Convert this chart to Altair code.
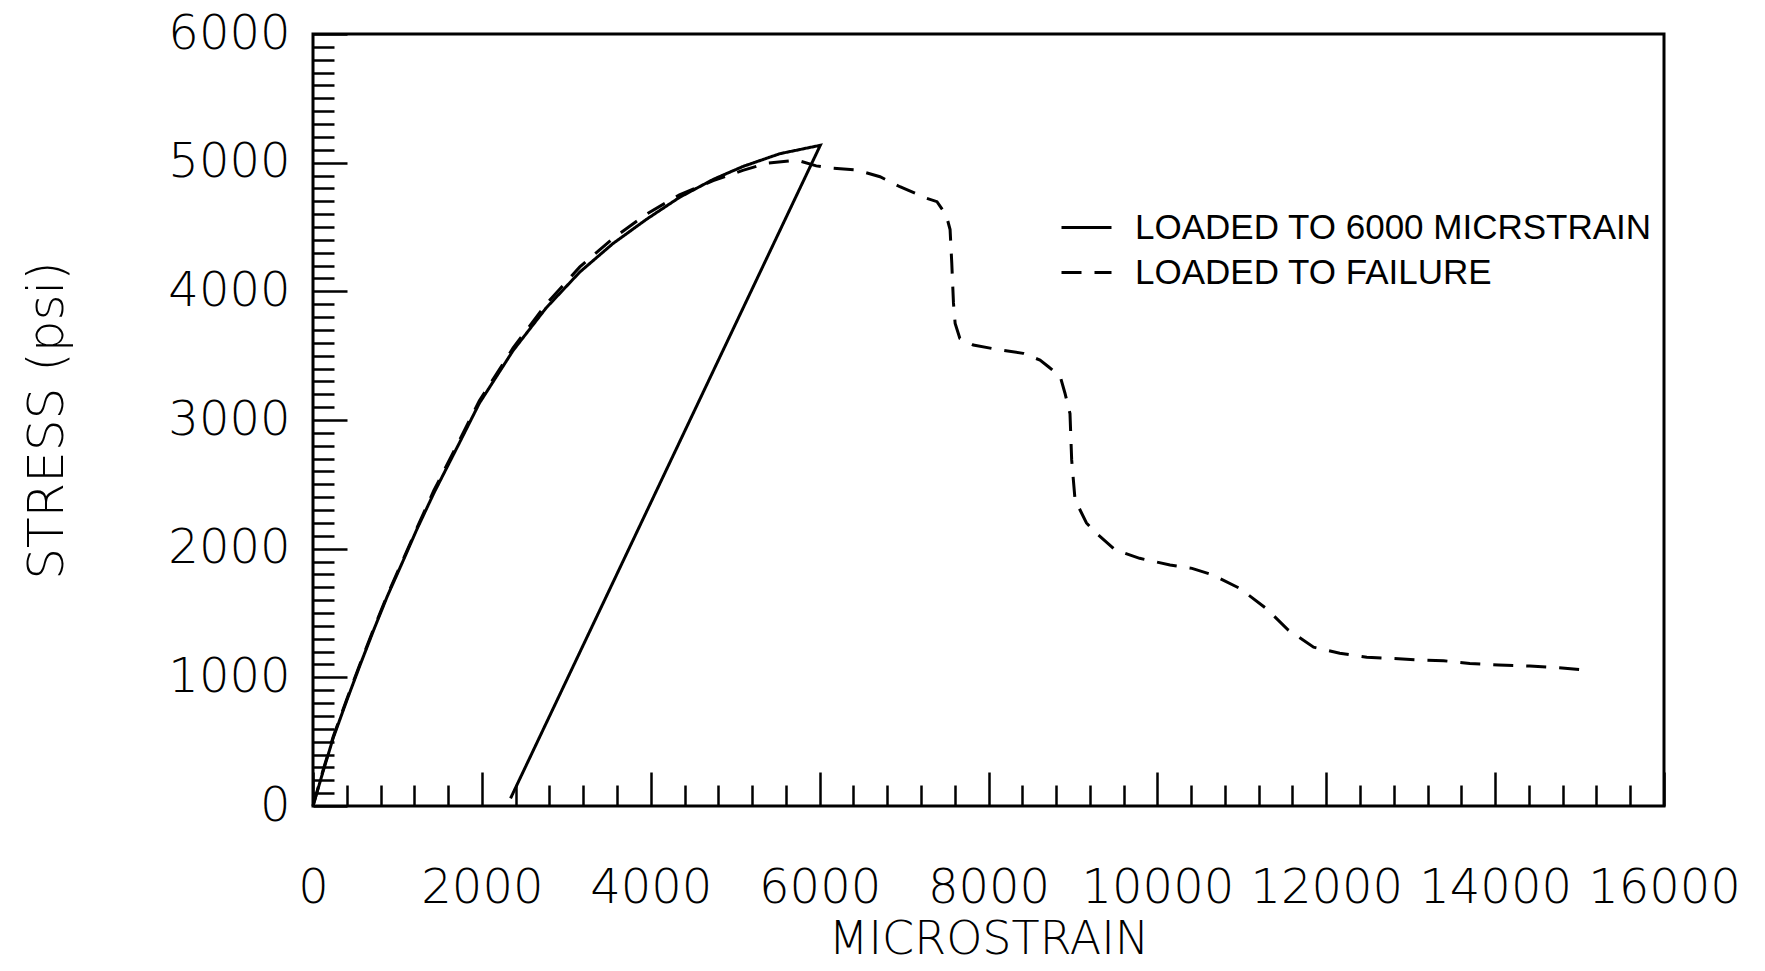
import altair as alt
import pandas as pd

# ---- data ----
series_names = ["LOADED TO 6000 MICRSTRAIN", "LOADED TO FAILURE"]

solid_strain = [0, 120, 240, 400, 560, 720, 880, 1070, 1230, 1430, 1740, 1970,
                2370, 2760, 3160, 3550, 3950, 4340, 4740, 5090, 5530, 6008, 2340]
solid_stress = [0, 270, 530, 820, 1100, 1370, 1630, 1910, 2150, 2430, 2830, 3130,
                3540, 3870, 4150, 4370, 4560, 4730, 4870, 4970, 5070, 5135, 60]

fail_strain = [0, 120, 240, 400, 560, 720, 880, 1070, 1230, 1430, 1740, 1970,
               2370, 2760, 3160, 3550, 3950, 4340, 4740, 5090, 5370, 5730, 5960,
               6160, 6440, 6715, 6950, 7270, 7390, 7500, 7545, 7565, 7585, 7605,
               7660, 7820, 8140, 8410, 8610, 8710, 8850, 8905, 8965, 8985, 9025,
               9160, 9260, 9500, 9790, 10150, 10410, 10660, 10980, 11290, 11550,
               11850, 12160, 12480, 12750, 13110, 13390, 13700, 14040, 14410,
               14690, 15020]
fail_stress = [0, 280, 540, 830, 1110, 1380, 1640, 1920, 2160, 2450, 2850, 3150,
               3560, 3900, 4190, 4410, 4600, 4750, 4860, 4940, 4995, 5020, 4975,
               4956, 4943, 4891, 4813, 4723, 4697, 4590, 4480, 4220, 3910, 3750,
               3635, 3583, 3544, 3518, 3466, 3414, 3337, 3210, 3050, 2690, 2380,
               2200, 2130, 1990, 1925, 1873, 1847, 1795, 1690, 1535, 1368,
               1234, 1187, 1156, 1148, 1135, 1129, 1108, 1096, 1088,
               1078, 1060]

x_major = list(range(0, 16001, 2000))
x_minor = [v for v in range(400, 16000, 400) if v % 2000]
y_major = list(range(0, 6001, 1000))
y_minor = [v for v in range(100, 6000, 100) if v % 1000]

rows = []
for i, (sx, sy) in enumerate(zip(solid_strain, solid_stress)):
    rows.append({"series": series_names[0], "strain": sx, "stress": sy, "idx": i})
for i, (sx, sy) in enumerate(zip(fail_strain, fail_stress)):
    rows.append({"series": series_names[1], "strain": sx, "stress": sy, "idx": i})
df = pd.DataFrame(rows)

TICK_FONT = "DejaVu Sans"
WEIGHT = 200
MAJOR = 34
MINOR = 21

xscale = alt.Scale(domain=[0, 16000], nice=False, zero=False)
yscale = alt.Scale(domain=[0, 6000], nice=False, zero=False)

x_major_axis = alt.Axis(
    orient="bottom", values=x_major, format="d", grid=False, domain=False,
    tickSize=MAJOR, offset=-MAJOR, tickColor="black", tickWidth=2.5,
    labelFont=TICK_FONT, labelFontSize=48, labelFontWeight=WEIGHT, labelColor="black",
    labelPadding=58, labelFlush=False, labelOverlap=False,
    title="MICROSTRAIN", titleFont=TICK_FONT, titleFontSize=46,
    titleFontWeight=WEIGHT, titleColor="black", titlePadding=5,
)
y_major_axis = alt.Axis(
    orient="left", values=y_major, format="d", grid=False, domain=False,
    tickSize=MAJOR, offset=-MAJOR, tickColor="black", tickWidth=2.5,
    labelFont=TICK_FONT, labelFontSize=48, labelFontWeight=WEIGHT, labelColor="black",
    labelPadding=23, labelFlush=False, labelOverlap=False,
    title="STRESS (psi)", titleFont=TICK_FONT, titleFontSize=50,
    titleFontWeight=WEIGHT, titleColor="black", titlePadding=95,
)
x_minor_axis = alt.Axis(
    orient="bottom", values=x_minor, grid=False, domain=False, labels=False,
    tickSize=MINOR, offset=-MINOR, tickColor="black", tickWidth=2.5,
)
y_minor_axis = alt.Axis(
    orient="left", values=y_minor, grid=False, domain=False, labels=False,
    tickSize=MINOR, offset=-MINOR, tickColor="black", tickWidth=2.5,
)

legend = alt.Legend(
    orient="none", legendX=747, legendY=167, title=None,
    symbolType="stroke", symbolSize=2500, symbolStrokeWidth=2.8,
    symbolStrokeColor="black", labelFont="Liberation Sans", labelFontSize=35,
    labelColor="black", labelLimit=900, labelOffset=22, rowPadding=-12,
)

lines = alt.Chart(df).mark_line(color="black", strokeWidth=3).encode(
    x=alt.X("strain:Q", scale=xscale, axis=x_major_axis),
    y=alt.Y("stress:Q", scale=yscale, axis=y_major_axis),
    strokeDash=alt.StrokeDash(
        "series:N",
        scale=alt.Scale(domain=series_names, range=[[1, 0], [20, 13]]),
        sort=series_names,
        legend=legend,
    ),
    order="idx:Q",
)

minor = alt.Chart(df).mark_line(opacity=0).encode(
    x=alt.X("strain:Q", scale=xscale, axis=x_minor_axis, title=None),
    y=alt.Y("stress:Q", scale=yscale, axis=y_minor_axis, title=None),
    detail="series:N",
    order="idx:Q",
)

chart = (
    alt.layer(lines, minor)
    .resolve_axis(x="independent", y="independent")
    .properties(
        width=1351, height=772,
        autosize=alt.AutoSizeParams(type="none"),
        padding={"left": 305, "top": 26, "right": 93, "bottom": 157},
        background="white",
    )
    .configure_view(stroke="black", strokeWidth=3)
)

chart.save("out.html", embed_options={"renderer": "svg", "actions": False})
